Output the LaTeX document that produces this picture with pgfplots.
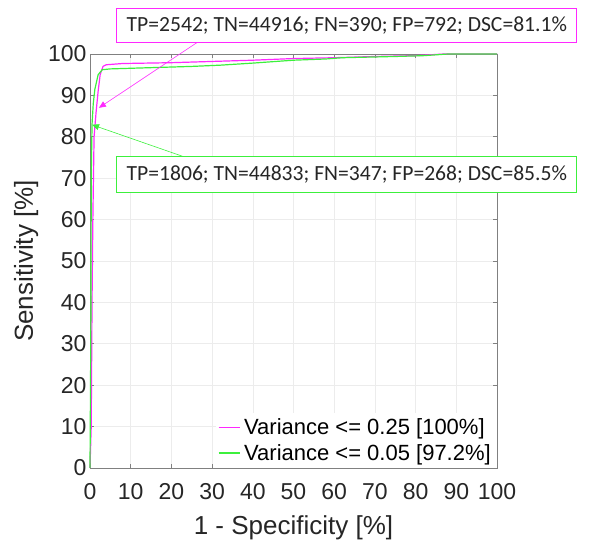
\documentclass[border=0pt]{standalone}
\usepackage{pgfplots}
\pgfplotsset{compat=1.18}
\usepackage{fontspec}
\setmainfont{Liberation Sans}
\newfontfamily\annfont{Carlito}
\usetikzlibrary{arrows.meta}
\definecolor{mag}{RGB}{255,40,255}
\definecolor{grn}{RGB}{60,240,60}
\definecolor{axgray}{RGB}{128,128,128}
\begin{document}
\begin{tikzpicture}
\begin{axis}[
  scale only axis, width=407pt, height=414pt,
  at={(0,0)}, anchor=south west,
  xmin=0, xmax=100, ymin=0, ymax=100,
  xtick={0,10,...,100}, ytick={0,10,...,100},
  grid=major, major grid style={gray!15, line width=0.6pt},
  axis line style={axgray, line width=0.8pt},
  tick style={axgray, line width=0.6pt}, tick align=inside,
  major tick length=4pt,
  ticklabel style={font=\fontsize{23}{26}\selectfont, text=black!85},
  xticklabel style={yshift=-12pt},
  /pgf/number format/assume math mode=true,
  xlabel={1 - Specificity [\%]}, ylabel={Sensitivity [\%]},
  label style={font=\fontsize{26}{30}\selectfont, text=black!85},
  xlabel style={yshift=-9pt},
  ylabel style={yshift=3pt},
  clip=false,
  legend style={at={(1,0)}, anchor=south east, draw=none, fill=white,
    font=\fontsize{22}{25}\selectfont, inner sep=2pt, row sep=0pt,
    nodes={inner sep=4pt},
    /tikz/every even column/.append style={column sep=0pt}},
  legend cell align=left,
]
\addplot[draw=mag, line width=1.2pt,
  legend image code/.code={\draw[draw=mag, line width=1.2pt] (0pt,0pt) -- (21pt,0pt);}] coordinates {
(0,0) (0.3,10) (0.5,40) (0.7,60) (1.0,80) (1.5,86) (2.0,91) (2.5,95) (3.2,97)
(4,97.4) (8,97.7) (20,97.9) (30,98.2) (40,98.5) (50,98.9) (60,99.1) (70,99.4)
(80,99.6) (87,100) (100,100)};
\addlegendentry{Variance <= 0.25 [100\%]}
\addplot[draw=grn, line width=1.2pt,
  legend image code/.code={\draw[draw=grn, line width=1.2pt] (0pt,0pt) -- (21pt,0pt);}] coordinates {
(0,0) (0.25,40) (0.3,70) (0.5,83) (0.8,88) (1.2,91.5) (2,95) (3,96.2) (5,96.4)
(15,96.7) (25,97) (32,97.3) (40,97.8) (50,98.5) (58,98.8) (62,99.1) (75,99.4)
(82,99.6) (88,100) (100,100)};
\addlegendentry{Variance <= 0.05 [97.2\%]}
\draw[mag, line width=0.6pt, -{Triangle[length=7pt,width=6pt]}] (axis cs:26.5,102.9) -- (axis cs:2.2,87);
\draw[grn, line width=0.6pt, -{Triangle[length=7pt,width=6pt]}] (axis cs:23.3,75.1) -- (axis cs:0.5,82.9);
\node[draw=mag, line width=1pt, fill=white, minimum width=460pt, minimum height=34pt,
  font=\annfont\fontsize{21.6}{24}\selectfont, text=black!85] at (axis cs:63.1,107) {TP=2542; TN=44916; FN=390; FP=792; DSC=81.1\%};
\node[draw=grn, line width=1pt, fill=white, minimum width=460pt, minimum height=36pt,
  font=\annfont\fontsize{21.6}{24}\selectfont, text=black!85] at (axis cs:63.1,70.8) {TP=1806; TN=44833; FN=347; FP=268; DSC=85.5\%};
\end{axis}
\useasboundingbox (-90pt,-72pt) rectangle (522pt,468pt);
\end{tikzpicture}
\end{document}
